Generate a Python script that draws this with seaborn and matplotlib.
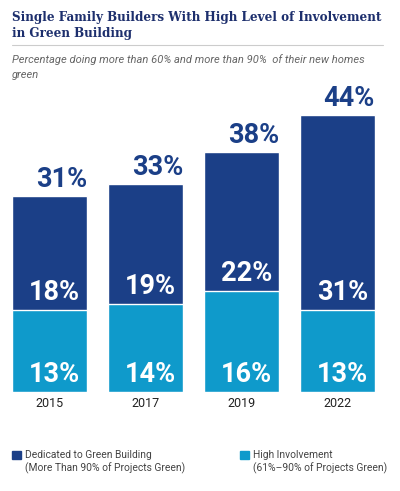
import matplotlib
matplotlib.use("Agg")
import matplotlib.pyplot as plt
import seaborn as sns
import pandas as pd
from matplotlib.patches import Rectangle

# data
years = ["2015", "2017", "2019", "2022"]
dedicated = [18, 19, 22, 31]      # more than 90% green
high_inv = [13, 14, 16, 13]       # 61%-90% green
totals = [31, 33, 38, 44]

dark = "#1b3f87"
light = "#0f9acb"
navy_txt = "#1d2f6d"

df = pd.DataFrame({"year": years, "total": totals, "high": high_inv, "dedicated": dedicated})

sns.set_theme(style="white")
big = ["Roboto", "DejaVu Sans"]

fig = plt.figure(figsize=(4.0, 4.91), dpi=100)
W, H = 400, 491
ax = fig.add_axes([1.5 / W, (H - 391.7) / H, 384 / W, 315 / H])

sns.barplot(data=df, x="year", y="total", color=dark, width=0.78, saturation=1, ax=ax)
sns.barplot(data=df, x="year", y="high", color=light, width=0.78, saturation=1, ax=ax)
ax.set_xlim(-0.5, 3.5)
ax.set_ylim(0, 50)
ax.axis("off")

px = 50 / 315  # data units per pixel (y)
for i, (t, d, h) in enumerate(zip(totals, dedicated, high_inv)):
    right = i + 0.39
    ax.text(right, t + 3 * px, f"{t}%", ha="right", va="bottom", fontsize=19.5,
            fontweight="bold", color=dark, family=big, clip_on=False)
    ax.text(right - 0.07, h + 17 * px, f"{d}%", ha="right", va="center", fontsize=19.5,
            fontweight="bold", color="white", family=big)
    ax.text(right - 0.07, 17 * px, f"{h}%", ha="right", va="center", fontsize=19.5,
            fontweight="bold", color="white", family=big)
    ax.text(i, -12 * px, years[i], ha="center", va="center", fontsize=9,
            color="#222222", family=["Roboto", "DejaVu Sans"], clip_on=False)

# title block
fig.text(12 / W, 1 - 18 / H, "Single Family Builders With High Level of Involvement",
         ha="left", va="center", fontsize=8.65, fontweight="bold", color=navy_txt,
         family=["DejaVu Serif"])
fig.text(12 / W, 1 - 33 / H, "in Green Building", ha="left", va="center", fontsize=8.65,
         fontweight="bold", color=navy_txt, family=["DejaVu Serif"])
fig.add_artist(plt.Line2D([12 / W, 383 / W], [1 - 45 / H, 1 - 45 / H], color="#cccccc", lw=0.8))
fig.text(12 / W, 1 - 60 / H, "Percentage doing more than 60% and more than 90%  of their new homes",
         ha="left", va="center", fontsize=8.0, style="italic", color="#666666",
         family=["Roboto", "DejaVu Sans"])
fig.text(12 / W, 1 - 75 / H, "green", ha="left", va="center", fontsize=8.0, style="italic",
         color="#666666", family=["Roboto", "DejaVu Sans"])

# legend
for x0, col, l1, l2 in [(12, dark, "Dedicated to Green Building", "(More Than 90% of Projects Green)"),
                        (240, light, "High Involvement", "(61%–90% of Projects Green)")]:
    fig.add_artist(Rectangle((x0 / W, 1 - 459 / H), 8.5 / W, 8 / H, color=col,
                             transform=fig.transFigure))
    fig.text((x0 + 13) / W, 1 - 455 / H, l1, ha="left", va="center", fontsize=7.4,
             color="#444444", family=["Roboto", "DejaVu Sans"])
    fig.text((x0 + 13) / W, 1 - 468 / H, l2, ha="left", va="center", fontsize=7.4,
             color="#444444", family=["Roboto", "DejaVu Sans"])

fig.savefig("out.png", dpi=100, facecolor="white")
